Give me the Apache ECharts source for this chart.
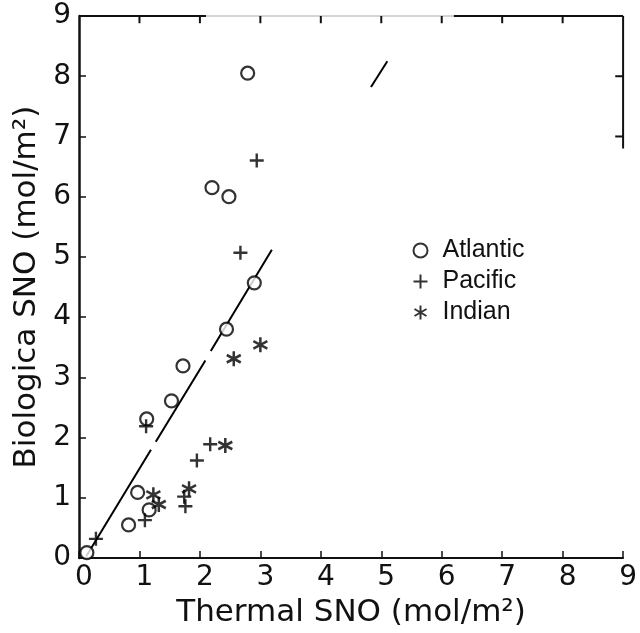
<!DOCTYPE html>
<html>
<head>
<meta charset="utf-8">
<script src="https://cdn.jsdelivr.net/npm/echarts@6/dist/echarts.min.js"></script>
<style>
  html, body { margin: 0; padding: 0; background: #fff; }
  #chart { width: 640px; height: 633px; }
</style>
</head>
<body>
<div id="chart"></div>
<script>
// values (mol/m2)
const atlanticX = [2.79, 2.20, 2.48, 2.90, 2.44, 1.72, 1.53, 1.12, 0.97, 1.16, 0.82, 0.13];
const atlanticY = [8.05, 6.15, 6.00, 4.57, 3.80, 3.19, 2.61, 2.31, 1.09, 0.80, 0.55, 0.09];
const pacificX = [2.94, 2.67, 1.11, 2.17, 1.95, 1.74, 1.76, 1.09, 0.28];
const pacificY = [6.60, 5.07, 2.19, 1.89, 1.62, 1.02, 0.86, 0.63, 0.32];
const indianX = [3.00, 2.56, 2.42, 1.82, 1.23, 1.32];
const indianY = [3.54, 3.31, 1.87, 1.15, 1.05, 0.89];

// pieces of the regression line as printed (it has gaps)
const fitSegments = [
  [[0.12, 0.03], [1.19, 1.80]],
  [[1.27, 1.93], [2.09, 3.28]],
  [[2.18, 3.44], [3.19, 5.12]],
  [[4.83, 7.82], [5.10, 8.25]]
];

const tickValues = [0, 1, 2, 3, 4, 5, 6, 7, 8, 9];
const topTicks = [1, 2, 3, 4, 5, 6, 7, 8];
const rightTicks = [7, 8];

const pairs = (xs, ys) => xs.map((x, i) => [x, ys[i]]);

const labelFont = 'DejaVu Sans';
const plusPath = 'path://M5,0L5,10M0,5L10,5';
const starPath = 'path://M5,0L5,10M0.7,2.5L9.3,7.5M0.7,7.5L9.3,2.5';

// top edge and short right edge of the frame: [x1, y1, x2, y2, faint]
const frameSegs = [
  [0, 9, 2.1, 9, 0],
  [2.1, 9, 6.2, 9, 1],
  [6.2, 9, 9, 9, 0],
  [9, 9, 9, 6.8, 0]
]
  .concat(topTicks.map(t => [t, 9, t, 8.88, 0]))
  .concat(rightTicks.map(t => [8.87, t, 9, t, 0]));

const chart = echarts.init(document.getElementById('chart'));

const option = {
  backgroundColor: '#fff',
  animation: false,
  grid: { left: 79, right: 14, top: 16, bottom: 68 },
  legend: {
    orient: 'vertical',
    left: 406,
    top: 233,
    itemGap: 6,
    itemWidth: 14,
    itemHeight: 14,
    textStyle: {
      fontFamily: 'Liberation Sans', fontSize: 25, color: '#111',
      padding: [0, 0, 0, 10]
    },
    data: ['Atlantic', 'Pacific', 'Indian']
  },
  xAxis: {
    type: 'value',
    min: 0, max: 9, interval: 1,
    name: 'Thermal SNO (mol/m²)',
    nameLocation: 'middle',
    nameGap: 23,
    nameTextStyle: { fontFamily: labelFont, fontSize: 31, color: '#111' },
    axisLine: { show: true, lineStyle: { color: '#111', width: 2 } },
    axisTick: { inside: true, length: 7, lineStyle: { color: '#111', width: 1.5 } },
    axisLabel: {
      margin: 6, fontFamily: labelFont, fontSize: 28, color: '#111',
      padding: [0, 0, 0, 10],
      formatter: v => tickValues.includes(v) ? String(v) : ''
    },
    splitLine: { show: false }
  },
  yAxis: {
    type: 'value',
    min: 0, max: 9, interval: 1,
    name: 'Biologica SNO (mol/m²)',
    nameLocation: 'middle',
    nameGap: 36,
    nameTextStyle: { fontFamily: labelFont, fontSize: 31, color: '#111' },
    axisLine: { show: true, lineStyle: { color: '#111', width: 2.5 } },
    axisTick: { inside: true, length: 7, lineStyle: { color: '#111', width: 1.5 } },
    axisLabel: { margin: 8, fontFamily: labelFont, fontSize: 28, color: '#111' },
    splitLine: { show: false }
  },
  series: [
    {
      type: 'custom',
      silent: true,
      clip: false,
      data: frameSegs,
      encode: { x: [0, 2], y: [1, 3] },
      renderItem: (params, api) => {
        const p1 = api.coord([api.value(0), api.value(1)]);
        const p2 = api.coord([api.value(2), api.value(3)]);
        const faint = api.value(4) === 1;
        return {
          type: 'line',
          shape: { x1: p1[0], y1: p1[1], x2: p2[0], y2: p2[1] },
          style: { stroke: faint ? '#aaa' : '#111', lineWidth: faint ? 1 : 2 }
        };
      }
    },
    {
      type: 'lines',
      coordinateSystem: 'cartesian2d',
      silent: true,
      lineStyle: { color: '#000', width: 2, opacity: 1 },
      data: fitSegments.map(s => ({ coords: s }))
    },
    {
      name: 'Atlantic',
      type: 'scatter',
      symbol: 'circle',
      symbolSize: 13,
      itemStyle: { color: '#fff', borderColor: '#000', borderWidth: 2.2 },
      data: pairs(atlanticX, atlanticY)
    },
    {
      name: 'Pacific',
      type: 'scatter',
      symbol: plusPath,
      symbolSize: 14,
      itemStyle: { color: 'none', borderColor: '#000', borderWidth: 2.4 },
      data: pairs(pacificX, pacificY)
    },
    {
      name: 'Indian',
      type: 'scatter',
      symbol: starPath,
      symbolSize: [14, 15],
      itemStyle: { color: 'none', borderColor: '#000', borderWidth: 2.6 },
      data: pairs(indianX, indianY)
    }
  ]
};

chart.setOption(option);
</script>
</body>
</html>
